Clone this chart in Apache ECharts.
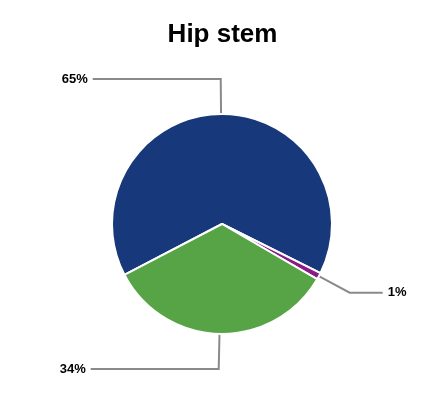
<!DOCTYPE html>
<html>
<head>
<meta charset="utf-8">
<script src="https://cdn.jsdelivr.net/npm/echarts@6/dist/echarts.min.js"></script>
<style>
  html, body { margin: 0; padding: 0; background: #fff; }
  #chart { width: 445px; height: 400px; }
</style>
</head>
<body>
<div id="chart"></div>
<script>
// slice names, values (percent) and colours
var names = ['Stem A', 'Stem B', 'Stem C'];
var values = [65, 1, 34];
var colors = ['#17387a', '#8b1a89', '#57a447'];
var line2 = [128, 33, 128]; // second leg of each label line

var chart = echarts.init(document.getElementById('chart'));

var pieData = values.map(function (v, i) {
  return {
    name: names[i],
    value: v,
    itemStyle: { color: colors[i] },
    labelLine: { length2: line2[i] }
  };
});

chart.setOption({
  animation: false,
  title: {
    text: 'Hip stem',
    left: 'center',
    top: 17,
    textStyle: {
      fontFamily: 'Liberation Sans, Arial, sans-serif',
      fontSize: 26,
      fontWeight: 'bold',
      color: '#000'
    }
  },
  series: [
    {
      type: 'pie',
      center: [222, 224],
      radius: 110,
      startAngle: 207.5,
      clockwise: true,
      avoidLabelOverlap: false,
      itemStyle: { borderColor: '#fff', borderWidth: 2 },
      label: {
        show: true,
        formatter: '{c}%',
        fontFamily: 'Liberation Sans, Arial, sans-serif',
        fontSize: 13,
        fontWeight: 'bold',
        color: '#000',
        distanceToLabelLine: 5
      },
      labelLine: {
        show: true,
        length: 35,
        smooth: false,
        lineStyle: { color: '#8a8a8a', width: 2 }
      },
      emphasis: { disabled: true },
      data: pieData
    }
  ]
});
</script>
</body>
</html>
